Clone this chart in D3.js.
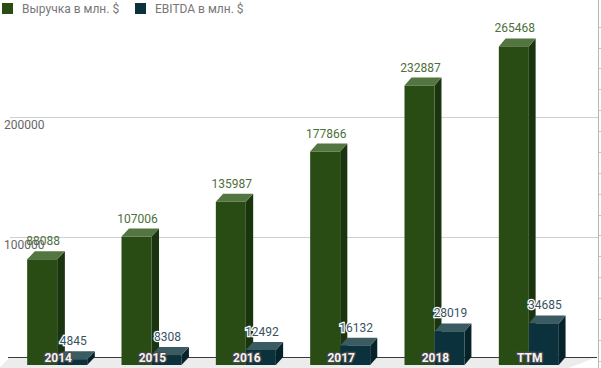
<!DOCTYPE html>
<html>
<head>
<meta charset="utf-8">
<script src="https://cdn.jsdelivr.net/npm/d3@7/dist/d3.min.js"></script>
<style>
  body { margin: 0; background: #fff; }
  svg text { font-family: Roboto, "Noto Sans", sans-serif; }
</style>
</head>
<body>
<svg id="chart" width="601" height="368"></svg>
<script>
var categories = ["2014", "2015", "2016", "2017", "2018", "TTM"];
var revenue = [88088, 107006, 135987, 177866, 232887, 265468];
var ebitda = [4845, 8308, 12492, 16132, 28019, 34685];
var yTicks = [100000, 200000];
var seriesNames = ["Выручка в млн. $", "EBITDA в млн. $"];

var svg = d3.select("#chart");
var W = 601, H = 368;
var base = 357, depthY = 8, barW = 30;

// back plane y scale, front faces are shifted down by depthY
var y = d3.scaleLinear().domain([0, 100000]).range([base, 237]);
var x0 = d3.scaleBand().domain(categories).range([10, 576]);
// small perspective: side depth shrinks to the right
var depthX = d3.scaleLinear().domain([10, 576]).range([7.8, 6.7]);

var faces = [
  { front: "#294c15", top: "#53753f", side: "#1b3410", label: "#4d6f3c" },
  { front: "#0b323c", top: "#3b5b62", side: "#07232a", label: "#38535f" }
];

// floor
var fl = [[10, base], [597, base], [566, H + 1], [-2, H + 1]];
svg.append("polygon")
  .attr("points", fl.map(function (p) { return p.join(","); }).join(" "))
  .style("fill", "#ececec");

// grid lines
svg.selectAll(".grid").data(yTicks).enter().append("line")
  .attr("x1", 10).attr("x2", 598)
  .attr("y1", function (d) { return Math.round(y(d)) + 0.5; })
  .attr("y2", function (d) { return Math.round(y(d)) + 0.5; })
  .style("stroke", "#cfcfcf").style("stroke-width", 1);

// axis line
svg.append("line")
  .attr("x1", 8).attr("x2", 597)
  .attr("y1", base + 0.5).attr("y2", base + 0.5)
  .style("stroke", "#3a3a3a").style("stroke-width", 1);

// right border with small ticks
var rScale = d3.scaleLinear().domain([0, 16]).range([26.7, 360.7]);
svg.append("line")
  .attr("x1", 598.5).attr("x2", 598.5).attr("y1", 0).attr("y2", H)
  .style("stroke", "#b5b5b5");
svg.selectAll(".rtick").data(d3.range(17)).enter().append("line")
  .attr("x1", 599).attr("x2", 601)
  .attr("y1", function (d) { return Math.round(rScale(d)) + 0.5; })
  .attr("y2", function (d) { return Math.round(rScale(d)) + 0.5; })
  .style("stroke", "#c8c8c8");

// y axis labels
svg.selectAll(".ylab").data(yTicks).enter().append("text")
  .attr("x", 4)
  .attr("y", function (d) { return y(d) + 11.5; })
  .style("font-size", "12px").style("fill", "#666")
  .text(function (d) { return d; });

function barPaths(xf, v, dx) {
  var ft = y(v) + depthY, fb = base + depthY;
  return {
    top: [[xf, ft], [xf + dx, ft - depthY], [xf + barW + dx, ft - depthY], [xf + barW, ft]],
    side: [[xf + barW, ft], [xf + barW + dx, ft - depthY], [xf + barW + dx, base], [xf + barW, fb]],
    front: [xf, ft, barW, fb - ft]
  };
}

var series = [revenue, ebitda];
var groups = svg.selectAll(".grp").data(categories).enter().append("g");

groups.each(function (c, i) {
  var g = d3.select(this);
  var center = x0(c) + x0.bandwidth() / 2;
  series.forEach(function (vals, s) {
    var xf = center - barW + s * barW;
    var dx = depthX(xf + barW);
    var p = barPaths(xf, vals[i], dx);
    g.append("polygon").attr("points", p.side.map(String).join(" "))
      .style("fill", faces[s].side);
    g.append("polygon").attr("points", p.top.map(String).join(" "))
      .style("fill", faces[s].top);
    g.append("rect")
      .attr("x", p.front[0]).attr("y", p.front[1])
      .attr("width", p.front[2]).attr("height", p.front[3])
      .style("fill", faces[s].front);
  });
});

// value labels
series.forEach(function (vals, s) {
  svg.selectAll(".val" + s).data(vals).enter().append("text")
    .attr("x", function (d, i) { return x0(categories[i]) + x0.bandwidth() / 2 - barW / 2 + s * barW + 1; })
    .attr("y", function (d) { return y(d) - 6; })
    .attr("text-anchor", "middle")
    .style("font-size", "12px")
    .style("fill", faces[s].label)
    .style("stroke", "#fff").style("stroke-width", s === 1 ? 2.5 : 0)
    .style("paint-order", "stroke")
    .text(function (d) { return d; });
});

// category labels
svg.selectAll(".cat").data(categories).enter().append("text")
  .attr("x", function (d) { return x0(d) + x0.bandwidth() / 2 + 1; })
  .attr("y", base + 4.5)
  .attr("text-anchor", "middle")
  .style("font-size", "12px").style("font-weight", "bold")
  .style("fill", "#f4f4f4")
  .style("stroke", "#4a4a4a").style("stroke-width", 2.4)
  .style("paint-order", "stroke")
  .text(function (d) { return d; });

// legend
var legendX = [2, 135];
var leg = svg.selectAll(".leg").data(seriesNames).enter().append("g")
  .attr("transform", function (d, i) { return "translate(" + legendX[i] + ",3)"; });
leg.append("rect").attr("width", 11).attr("height", 11)
  .style("fill", function (d, i) { return faces[i].front; });
leg.append("text").attr("x", 20).attr("y", 9.5)
  .style("font-size", "12px").style("fill", "#777")
  .text(function (d) { return d; });
</script>
</body>
</html>
